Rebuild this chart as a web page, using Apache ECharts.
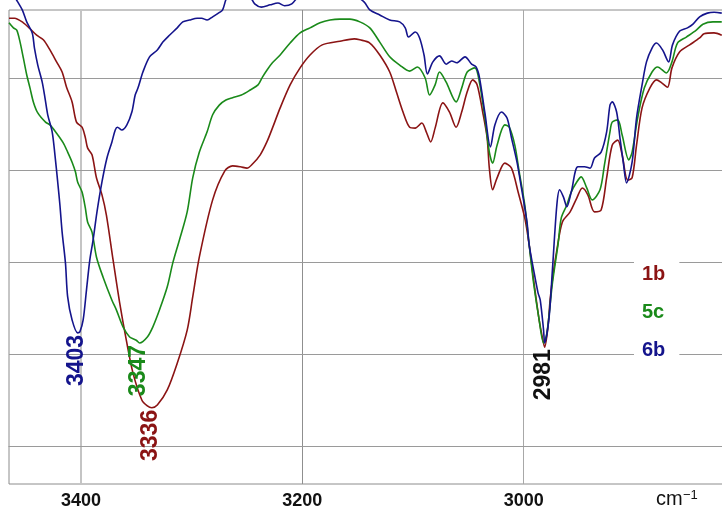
<!DOCTYPE html>
<html>
<head>
<meta charset="utf-8">
<script src="https://cdn.jsdelivr.net/npm/echarts@6/dist/echarts.min.js"></script>
<style>html,body{margin:0;padding:0;background:#fff}#c{width:722px;height:507px}</style>
</head>
<body>
<div id="c"></div>
<script>
// ---- data (wavenumber in cm-1, transmittance-like values) ----
const wn1b = [3465,3460,3452,3446,3440,3434,3428,3422,3417,3413,3408,3404,3399,3396,3394,3390,3386,3381,3377,3371,3365,3359,3353,3345,3340,3336,3331,3322,3313,3304,3299,3293,3281,3270,3263,3256,3250,3245,3238,3232,3227,3220,3211,3202,3193,3182,3166,3153,3148,3139,3130,3121,3115,3109,3103,3098,3092,3088,3084,3080,3073,3067,3061,3056,3051,3046,3042,3037,3033,3031,3028,3024,3017,3011,3005,2999,2995,2991,2986,2983,2981,2978,2976,2973,2970,2965,2958,2952,2947,2942,2936,2930,2925,2920,2915,2911,2906,2902,2898,2893,2886,2880,2875,2870,2866,2859,2850,2841,2837,2828,2821];
const t1b = [93.0,93.0,92.0,90.7,89.3,88.3,86.1,83.5,81.3,78.0,74.8,70.4,69.3,67.0,64.8,63.3,58.3,54.6,50.2,40.5,31.1,23.0,15.9,10.0,8.7,8.3,8.9,12.2,18.0,25.2,32.4,41.1,53.5,59.8,60.9,60.7,60.4,61.3,63.3,66.1,69.1,73.5,78.5,82.2,85.0,87.2,88.0,88.5,88.3,87.6,85.0,81.3,77.0,72.6,69.3,69.1,70.2,68.3,66.1,69.1,74.6,72.6,69.3,72.6,77.0,79.6,78.5,72.6,67.0,60.4,55.7,58.3,61.5,60.4,55.2,49.6,43.7,36.1,27.4,23.5,21.5,26.0,32.0,38.0,42.6,48.7,50.9,53.9,56.1,54.6,50.9,51.3,58.3,65.4,66.5,63.3,57.8,58.3,65.4,73.5,77.8,79.6,78.9,78.0,82.2,85.7,87.2,88.7,89.6,89.8,89.3];

const wn5c = [3465,3461,3458,3455,3452,3449,3446,3443,3439,3432,3428,3422,3416,3412,3408,3405,3403,3399,3396,3394,3390,3386,3380,3372,3368,3362,3356,3350,3347,3340,3335,3329,3322,3317,3311,3304,3299,3293,3286,3281,3275,3269,3263,3255,3247,3240,3236,3232,3227,3220,3211,3202,3193,3184,3175,3166,3157,3148,3139,3130,3121,3112,3103,3096,3089,3085,3080,3076,3070,3061,3056,3051,3044,3040,3035,3031,3028,3024,3017,3013,3008,3004,2999,2995,2991,2986,2982,2979,2974,2969,2966,2961,2957,2952,2948,2943,2938,2931,2927,2922,2920,2915,2911,2905,2902,2897,2891,2884,2879,2871,2866,2861,2853,2844,2838,2829,2821];
const t5c = [92.0,90.9,90.4,87.8,84.3,80.7,77.8,74.8,72.4,70.4,69.8,68.0,65.9,63.9,61.7,59.6,57.4,55.2,51.7,48.7,46.5,41.1,36.7,31.7,29.6,25.9,23.7,23.0,22.4,23.7,25.9,29.6,34.6,39.8,44.8,50.9,58.3,63.9,68.3,72.0,74.1,75.2,75.7,76.3,77.4,78.5,80.2,81.7,83.3,85.0,87.6,89.8,90.9,92.0,92.6,92.8,92.8,92.2,90.9,87.8,84.6,82.8,81.5,82.4,80.0,76.3,78.5,81.3,79.1,74.8,77.8,81.3,82.2,79.1,71.3,63.9,61.5,65.4,69.8,69.3,65.4,59.6,52.4,43.7,35.4,27.4,22.4,24.5,35.4,43.7,49.6,52.4,55.2,57.4,58.5,56.1,53.5,55.7,61.1,68.3,70.4,70.9,67.6,62.2,63.9,71.3,77.8,81.3,82.4,81.1,83.5,87.6,88.9,90.4,91.7,92.2,92.2];

const wn6b = [3461,3457,3453,3449,3444,3442,3439,3435,3432.5,3430,3426,3423.5,3421,3419,3417,3414,3412,3408,3403,3401,3398,3395,3392,3389,3385.5,3381,3376.5,3372,3369,3367,3363,3358.5,3354,3351,3348.5,3344,3338,3331,3326,3320,3313,3308,3302,3295,3291,3286,3281,3274.5,3272,3267,3256,3247,3243,3237,3229,3222,3216,3209.5,3202,3184,3166,3153,3144,3139,3130,3121,3112,3107,3104,3098,3094,3090,3087,3082,3076,3070,3065,3060.5,3053,3047,3043,3040,3035,3030,3026,3020,3015,3011,3006,3002,2997,2995,2991,2987,2985,2982,2981,2977,2974,2970,2967.5,2964,2961,2957,2951,2945,2940,2936,2930,2925,2922,2920,2916,2913,2910,2907,2902,2898,2893,2889,2884,2880,2874.5,2869,2865.5,2859,2852,2847,2841,2834,2828,2821];
const t6b = [98.0,96.5,94.8,92.2,89.8,86.5,82.8,79.1,75.7,72.0,68.3,63.3,57.4,52.4,46.5,39.8,32.4,27.4,24.6,24.8,27.4,33.9,40.4,44.8,50.9,57.4,62.6,66.1,68.7,69.3,68.7,69.8,72.6,76.3,77.8,81.3,84.6,86.1,87.8,89.3,90.9,92.2,92.6,93.0,93.0,92.6,93.3,94.3,94.8,98.0,99.1,97.6,96.1,95.4,95.9,96.3,95.7,96.1,98.0,98.9,99.1,98.0,96.5,94.8,93.7,92.6,92.2,90.9,88.9,90.0,88.7,85.0,80.9,83.5,84.8,83.0,83.7,83.3,84.6,83.0,82.4,80.2,72.4,65.0,69.8,72.6,71.3,67.0,61.7,56.1,48.7,43.7,38.3,33.3,31.7,25.2,22.4,28.0,38.3,52.4,55.7,54.1,52.0,55.2,60.7,60.7,60.4,62.6,63.9,68.3,74.1,74.8,72.6,67.0,61.7,57.2,61.7,71.3,78.5,83.5,86.5,87.6,86.1,83.5,87.2,90.2,90.9,91.7,93.3,94.1,94.3,94.1];

const seriesNames = ['1b', '5c', '6b'];
const seriesColors = ['#8b1414', '#1a8a1a', '#14148c'];
const xTicks = [3400, 3200, 3000];
const yGrid = [0, 20, 40, 60, 80];
const peakWn = [3403, 3347, 3336, 2981];
const peakSeriesIdx = [2, 1, 0, 0];
const peakColors = ['#14148c', '#1a8a1a', '#8b1414', '#111111'];

const zip = (a, b) => a.map((w, i) => [w, b[i]]);
const allData = [zip(wn1b, t1b), zip(wn5c, t5c), zip(wn6b, t6b)];

const FONT = '"Liberation Sans", Arial, sans-serif';
const chart = echarts.init(document.getElementById('c'), null, {renderer: 'canvas'});

const vLineStyles = {
  3400: {color: '#c4c4c4', width: 2, type: 'solid'},
  3200: {color: '#8f8f8f', width: 1, type: 'solid'},
  3000: {color: '#a8a8a8', width: 1, type: 'solid'}
};

const option = {
  animation: false,
  backgroundColor: '#ffffff',
  grid: {left: 9, right: -23, top: 10, bottom: 23, show: true, borderColor: '#8c8c8c', borderWidth: 1, containLabel: false, outerBoundsMode: 'none'},
  xAxis: {
    type: 'value', inverse: true, min: 2800, max: 3465, interval: 200, offset: 3,
    axisLine: {show: true, lineStyle: {color: '#8c8c8c', width: 1}},
    axisTick: {show: false},
    splitLine: {show: false},
    axisLabel: {show: true, showMinLabel: false, showMaxLabel: false, margin: 5,
      formatter: v => String(v),
      color: '#111', fontSize: 18, fontWeight: 'bold', fontFamily: FONT}
  },
  yAxis: {
    type: 'value', min: -8.26, max: 94.78, show: false, splitLine: {show: false}
  },
  legend: {
    show: true, orient: 'vertical', left: 634, top: 258, z: 10,
    padding: [6, 14, 6, 3], itemGap: 18, itemWidth: 0, itemHeight: 20,
    icon: 'rect', selectedMode: false, backgroundColor: '#ffffff',
    itemStyle: {opacity: 0}, lineStyle: {opacity: 0},
    textStyle: {fontSize: 20, fontWeight: 'bold', fontFamily: FONT, lineHeight: 20},
    data: seriesNames.map((n, i) => ({name: n, textStyle: {color: seriesColors[i]}}))
  },
  series: [
    {
      name: 'grid', type: 'line', data: [], z: 1, silent: true,
      markLine: {
        z: 1, silent: true, symbol: ['none', 'none'], label: {show: false}, animation: false,
        data: xTicks.map(v => ({xAxis: v, lineStyle: vLineStyles[v]}))
          .concat(yGrid.map(v => ({yAxis: v, lineStyle: {color: '#9a9a9a', width: 1, type: 'solid'}})))
      }
    }
  ].concat(seriesNames.map((n, i) => ({
    name: n, type: 'line', data: allData[i], showSymbol: false, smooth: 0.3,
    clip: i !== 2, z: 3 + i,
    lineStyle: {color: seriesColors[i], width: 1.6},
    itemStyle: {color: seriesColors[i]}
  })))
};
chart.setOption(option);

// peak labels placed through the chart's scales
const graphics = [];
peakWn.forEach((wn, k) => {
  const d = allData[peakSeriesIdx[k]];
  let best = d[0];
  d.forEach(p => { if (Math.abs(p[0] - wn) < Math.abs(best[0] - wn)) best = p; });
  const px = chart.convertToPixel({gridIndex: 0}, [wn, best[1]]);
  graphics.push({
    type: 'text', z: 20,
    x: px[0] - 1, y: px[1] + 2, rotation: Math.PI / 2,
    style: {text: String(wn), fill: peakColors[k], font: 'bold 23px ' + FONT,
      align: 'right', verticalAlign: 'middle'}
  });
});
graphics.push({type: 'text', z: 20, x: 656, y: 499,
  style: {text: 'cm', fill: '#111', font: '20px ' + FONT, align: 'left', verticalAlign: 'middle'}});
graphics.push({type: 'text', z: 20, x: 683, y: 495,
  style: {text: '\u22121', fill: '#111', font: '13px ' + FONT, align: 'left', verticalAlign: 'middle'}});
chart.setOption({graphic: graphics});
</script>
</body>
</html>
